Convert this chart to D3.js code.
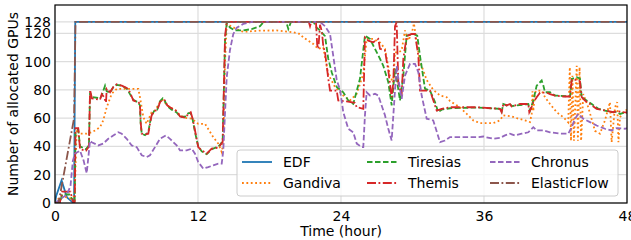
<!DOCTYPE html>
<html>
<head>
<meta charset="utf-8">
<script src="https://cdn.jsdelivr.net/npm/d3@7"></script>
<style>
  body { margin: 0; background: #fff; }
  svg text { font-family: "DejaVu Sans", sans-serif; }
</style>
</head>
<body>
<svg id="chart" width="631" height="240"></svg>
<script>
/******************** data: [hour, allocated GPUs] ********************/

var xTicks = [0, 12, 24, 36, 48];
var yTicks = [0, 20, 40, 60, 80, 100, 120, 128];

var edf = [[0,0],[0.1,5],[0.55,16],[1.0,4],[1.4,1],[1.6,0],[1.7,128],[48,128]];

var gandiva = [[0,0],[0.3,3],[0.6,5],[1.0,4],[1.4,3],[1.65,5],[1.82,52],[2.1,49],[2.66,49],[3.08,50],[3.36,51.3],
  [3.78,53.6],[4.05,58.4],[4.34,67.7],[4.76,77.2],[5.18,80.7],[5.73,80.7],[6.99,80.7],[7.13,74.8],[7.41,60.7],
  [7.69,56],[8.11,64.2],[8.39,65.4],[8.81,71.3],[9.04,73],[9.42,69],[10.21,65],[10.49,62],[10.91,60.3],[11.47,59.6],
  [12.02,56],[12.59,56],[13.28,46.6],[13.7,42],[13.99,36],[14.12,42],[14.27,100],[14.41,126],[14.68,125.4],
  [15.25,123],[15.8,121],[17.2,121.9],[18.6,122],[20.0,120.7],[20.56,119.5],[20.84,117],[21.67,112.5],[22.09,109],
  [22.51,110],[22.93,91],[23.5,82],[24.19,76],[24.75,72.5],[25.32,77.2],[25.87,91.3],[26.15,116],[26.71,116],
  [27.27,113.6],[27.69,109],[28.11,90],[28.39,85],[28.53,106.5],[28.81,106.5],[29.09,107.8],[29.37,122],[29.65,115],
  [29.93,119.5],[30.12,127],[30.35,113.6],[30.63,100],[31.19,87],[31.74,80],[32.31,76],[32.87,74.8],[33.15,72],
  [33.98,67.7],[34.55,63],[35.1,58.4],[35.66,56.5],[36.78,56.5],[37.34,58.4],[37.62,62],[38.32,61.2],[38.9,59.6],
  [39.44,58.4],[39.86,57.2],[40.0,63],[40.07,79],[40.14,65],[40.28,78],[40.42,79.5],[40.84,79.5],[41.12,74.8],
  [41.54,70],[42.1,64.2],[42.65,60.7],[43.07,57],[43.2,96],[43.3,44],[43.42,90],[43.55,44],[43.78,97],[43.88,44],
  [44.02,96],[44.15,44],[44.33,77],[44.75,67.7],[45.31,51],[45.73,49],[46.15,58.4],[46.57,71.3],[46.71,43],
  [46.99,67.7],[47.18,71.3],[47.28,43],[47.41,60.7],[47.69,64.2],[48,66]];

var tiresias = [[0,0],[0.4,0],[0.6,6],[1.2,6],[1.5,2],[1.65,0],[1.72,50],[1.95,52],[2.1,40],[2.6,38],[2.85,41],
  [2.94,78],[3.1,75],[3.78,74],[3.92,76],[4.2,83],[4.34,79],[4.62,78],[4.89,82],[5.18,83.5],[5.6,83],[6.02,81],
  [6.29,77],[6.57,73],[6.99,71],[7.13,69],[7.19,56],[7.28,49],[7.55,48],[7.83,50],[7.97,57],[8.11,62],[8.39,66],
  [8.58,66],[8.81,72],[9.04,74],[9.23,72],[9.42,68.5],[9.79,66],[10.21,64],[10.49,61],[10.91,61],[11.19,63.5],
  [11.39,63.5],[11.55,59],[11.75,50],[12.02,40],[12.31,36.5],[12.73,34.5],[13.15,38],[13.57,39.5],[13.85,41],
  [14.07,44],[14.27,115],[14.41,127],[14.68,124],[15.1,122],[15.8,122],[16.5,123],[17.2,125],[17.5,128],[19.4,128],
  [19.58,123],[19.8,128],[21.7,128],[21.96,124],[22.24,122],[22.66,118],[22.93,102],[23.22,92.4],[23.64,82],
  [24.19,78.3],[24.61,72.5],[25.03,70.1],[25.59,87.8],[26.01,118.3],[26.43,116],[26.85,109],[27.27,102],[27.55,97],
  [27.97,85.4],[28.25,69],[28.53,94.8],[28.67,88],[28.95,72.5],[29.23,90],[29.51,118.3],[30.07,119.5],[30.4,118.3],
  [30.63,104],[31.05,80.7],[31.47,79.5],[31.89,71.3],[32.16,64.2],[32.45,66],[33.15,67],[35.38,67.5],[37.34,66.6],
  [37.48,64.5],[37.62,70],[37.9,69],[38.18,70],[38.32,68.5],[39.72,70],[39.86,65.4],[40.14,72.5],[40.42,83],
  [40.84,86.6],[40.98,83],[41.12,78.3],[41.54,78.3],[41.96,76],[43.22,75.3],[43.36,87.8],[43.78,89],[44.05,88],
  [44.2,74.8],[44.61,72.5],[45.04,70],[45.59,66.6],[46.15,65.4],[46.71,64.2],[47.13,64.5],[47.41,63],[47.83,64],[48,64]];

var themis = [[0,0],[0.4,0],[0.6,8],[1.3,8],[1.5,1],[1.65,0],[1.72,53],[1.95,53],[2.1,38],[2.6,37],[2.85,40],
  [2.94,80],[3.1,74],[3.78,73],[3.92,77],[4.11,75],[4.28,71],[4.34,80.7],[4.62,78.3],[4.89,82],[5.18,84],[5.6,83],
  [6.02,81.4],[6.29,78.3],[6.57,72.5],[6.99,71.3],[7.13,70],[7.19,57],[7.28,49],[7.55,48.5],[7.83,49],[7.97,56],
  [8.11,62],[8.39,65.4],[8.58,65.6],[8.81,71.3],[9.04,73],[9.23,72.5],[9.42,69],[9.79,67],[10.21,65],[10.49,61.2],
  [10.91,60.3],[11.19,63],[11.39,64.2],[11.55,59.6],[11.75,51.3],[12.02,39.5],[12.31,37.2],[12.73,34.9],[13.15,38.4],
  [13.57,39],[13.85,40.7],[14.07,43],[14.27,118],[14.41,128],[21.3,128],[21.4,125],[21.5,128],[21.9,128],[22.0,112],
  [22.1,109],[22.24,126],[22.4,121],[22.51,111],[22.66,106.5],[22.8,97],[22.93,88],[23.08,79.5],[23.64,79.5],
  [23.77,72.5],[24.48,71.8],[25.17,70.8],[25.32,67.7],[25.87,66.6],[26.01,117],[26.29,114.8],[26.71,113.6],
  [27.13,116],[27.27,109],[27.69,107.8],[27.97,93.6],[28.25,74.8],[28.39,85],[28.53,125],[28.67,127.7],[28.81,85],
  [29.09,76],[29.23,102],[29.51,118],[29.93,119.5],[30.21,119.5],[30.49,104],[30.63,79.5],[31.47,79.5],[32.03,65.4],
  [32.45,66.6],[33.15,67.7],[35.38,67.7],[37.34,66.6],[37.48,64.2],[37.62,70],[37.9,69],[38.18,70],[38.32,68.2],
  [39.02,70],[39.72,70],[39.8,64.2],[40.0,68],[40.14,71.3],[40.42,74.8],[40.7,78],[41.26,78],[41.54,77],[41.96,76],
  [42.65,75.3],[43.22,75.3],[43.36,87],[43.91,87],[44.05,86],[44.2,74.8],[44.47,72.5],[44.89,70],[45.45,66.6],
  [46.15,65.4],[46.85,64.2],[47.2,65],[47.69,64.2],[48,64]];

var chronus = [[0,0],[0.5,3],[1.0,6],[1.3,12],[1.5,30],[1.68,35],[2.1,37],[2.4,30],[2.66,21],[2.94,44],[3.08,43],
  [3.63,40.7],[4.05,42],[4.47,45.4],[4.89,47.8],[5.31,50],[5.6,49],[6.02,45.4],[6.44,40.7],[6.86,39.5],[7.28,33.7],
  [7.69,32.5],[7.97,33.7],[8.39,39.5],[8.81,45.4],[9.31,47.8],[9.65,45.4],[10.21,40.7],[10.49,37.2],[11.05,37.2],
  [11.47,38.4],[11.75,34.9],[12.02,29],[12.44,24.3],[12.86,25.4],[13.28,26.6],[13.7,27.8],[13.99,27.8],[14.12,37],
  [14.41,89],[14.68,108],[14.96,119.5],[15.25,124],[15.8,126.6],[16.5,128],[22.24,128],[22.66,125],[23.08,119.5],
  [23.35,104],[23.64,87],[23.92,80],[24.19,64.2],[24.61,52.5],[25.03,50],[25.32,42],[25.74,39.5],[25.87,39.5],
  [26.01,62],[26.15,78.3],[26.43,76],[26.85,77.2],[27.13,76],[27.41,69],[27.69,62],[27.97,52.5],[28.25,44.2],
  [28.67,97],[28.81,87.8],[29.09,73.7],[29.37,90],[29.79,98.4],[30.21,98.4],[30.49,92.4],[30.77,76],[31.19,59.6],
  [31.74,58.4],[32.31,43],[32.73,44.2],[33.15,46.6],[35.52,46.6],[35.94,47],[36.78,45.4],[37.34,46],[37.76,47.8],
  [38.18,49],[38.6,47.8],[39.16,49],[39.72,50],[40.14,53.6],[40.42,51.3],[40.98,51.3],[41.54,50],[42.38,49],
  [43.07,49],[43.36,53.6],[43.64,59.6],[43.91,63],[44.33,59.6],[44.89,57.2],[45.45,54.8],[46.15,52.5],[46.71,51.3],
  [47.13,53],[47.83,52.5],[48,53]];

var elasticflow = [[0,0],[0.3,0],[1.6,60],[1.72,128],[48,128]];

var seriesNames = ['EDF', 'Gandiva', 'Tiresias', 'Themis', 'Chronus', 'ElasticFlow'];
var seriesData = [edf, gandiva, tiresias, themis, chronus, elasticflow];

/******************** styles ********************/

var colors = ['#1f77b4', '#ff7f0e', '#2ca02c', '#d62728', '#9467bd', '#8c564b'];
var dashes = [null, '1.8,2.6', '5.5,2.5', '9,2.5,1.8,2.5', '5.5,2.5', '9,2.5,1.8,2.5'];

/******************** chart ********************/

var W = 631, H = 240;
var margin = {left: 55, right: 4, top: 5, bottom: 37};

var svg = d3.select('#chart');

var x = d3.scaleLinear().domain([0, 48]).range([margin.left, W - margin.right]);
var y = d3.scaleLinear().domain([0, 140]).range([H - margin.bottom, margin.top]);

// grid
svg.append('g').selectAll('line').data(yTicks).enter().append('line')
    .attr('x1', x(0)).attr('x2', x(48))
    .attr('y1', function(d){ return y(d); }).attr('y2', function(d){ return y(d); })
    .attr('stroke', '#dddddd').attr('stroke-width', 1.2);
svg.append('g').selectAll('line').data(xTicks).enter().append('line')
    .attr('y1', y(0)).attr('y2', y(140))
    .attr('x1', function(d){ return x(d); }).attr('x2', function(d){ return x(d); })
    .attr('stroke', '#dddddd').attr('stroke-width', 1.2);

// axes
var xAxis = svg.append('g').attr('transform', 'translate(0,' + y(0) + ')')
    .call(d3.axisBottom(x).tickValues(xTicks).tickSize(0).tickPadding(8).tickFormat(d3.format('d')));
var yAxis = svg.append('g').attr('transform', 'translate(' + x(0) + ',0)')
    .call(d3.axisLeft(y).tickValues(yTicks).tickSize(0).tickPadding(4).tickFormat(d3.format('d')));
[xAxis, yAxis].forEach(function(a){
    a.select('.domain').remove();
    a.selectAll('text').style('font-family', '"DejaVu Sans", sans-serif').style('font-size', '14px').attr('fill', '#000');
});

// lines
var line = d3.line().x(function(d){ return x(d[0]); }).y(function(d){ return y(d[1]); });

svg.append('defs').append('clipPath').attr('id', 'clip').append('rect')
    .attr('x', x(0)).attr('y', y(140)).attr('width', x(48) - x(0)).attr('height', y(0) - y(140));

var plot = svg.append('g').attr('clip-path', 'url(#clip)');
seriesData.forEach(function(s, i){
    plot.append('path').datum(s)
        .attr('d', line)
        .attr('fill', 'none')
        .attr('stroke', colors[i])
        .attr('stroke-width', 1.8)
        .attr('stroke-dasharray', dashes[i]);
});

// frame
svg.append('rect')
    .attr('x', x(0)).attr('y', y(140)).attr('width', x(48) - x(0)).attr('height', y(0) - y(140))
    .attr('fill', 'none').attr('stroke', '#000').attr('stroke-width', 1.2);

// axis labels
svg.append('text').attr('x', (x(0) + x(48)) / 2).attr('y', 236)
    .attr('text-anchor', 'middle').style('font-size', '14px').text('Time (hour)');
svg.append('text')
    .attr('transform', 'translate(18,' + ((y(0) + y(140)) / 2) + ') rotate(-90)')
    .attr('text-anchor', 'middle').style('font-size', '14px').text('Number of allocated GPUs');

/******************** legend ********************/

var legend = svg.append('g').attr('transform', 'translate(237,150)');
legend.append('rect').attr('width', 381).attr('height', 46).attr('rx', 3)
    .attr('fill', '#fff').attr('fill-opacity', 0.8).attr('stroke', '#cccccc').attr('stroke-width', 1);

var colX = [5, 130, 253];
var rowY = [12, 33];
seriesNames.forEach(function(name, i){
    var c = Math.floor(i / 2), r = i % 2;
    var item = legend.append('g').attr('transform', 'translate(' + colX[c] + ',' + rowY[r] + ')');
    item.append('line').attr('x1', 0).attr('x2', 30).attr('y1', 0).attr('y2', 0)
        .attr('stroke', colors[i]).attr('stroke-width', 1.8).attr('stroke-dasharray', dashes[i]);
    item.append('text').attr('x', 41).attr('y', 5).style('font-size', '14px').text(name);
});
</script>
</body>
</html>
